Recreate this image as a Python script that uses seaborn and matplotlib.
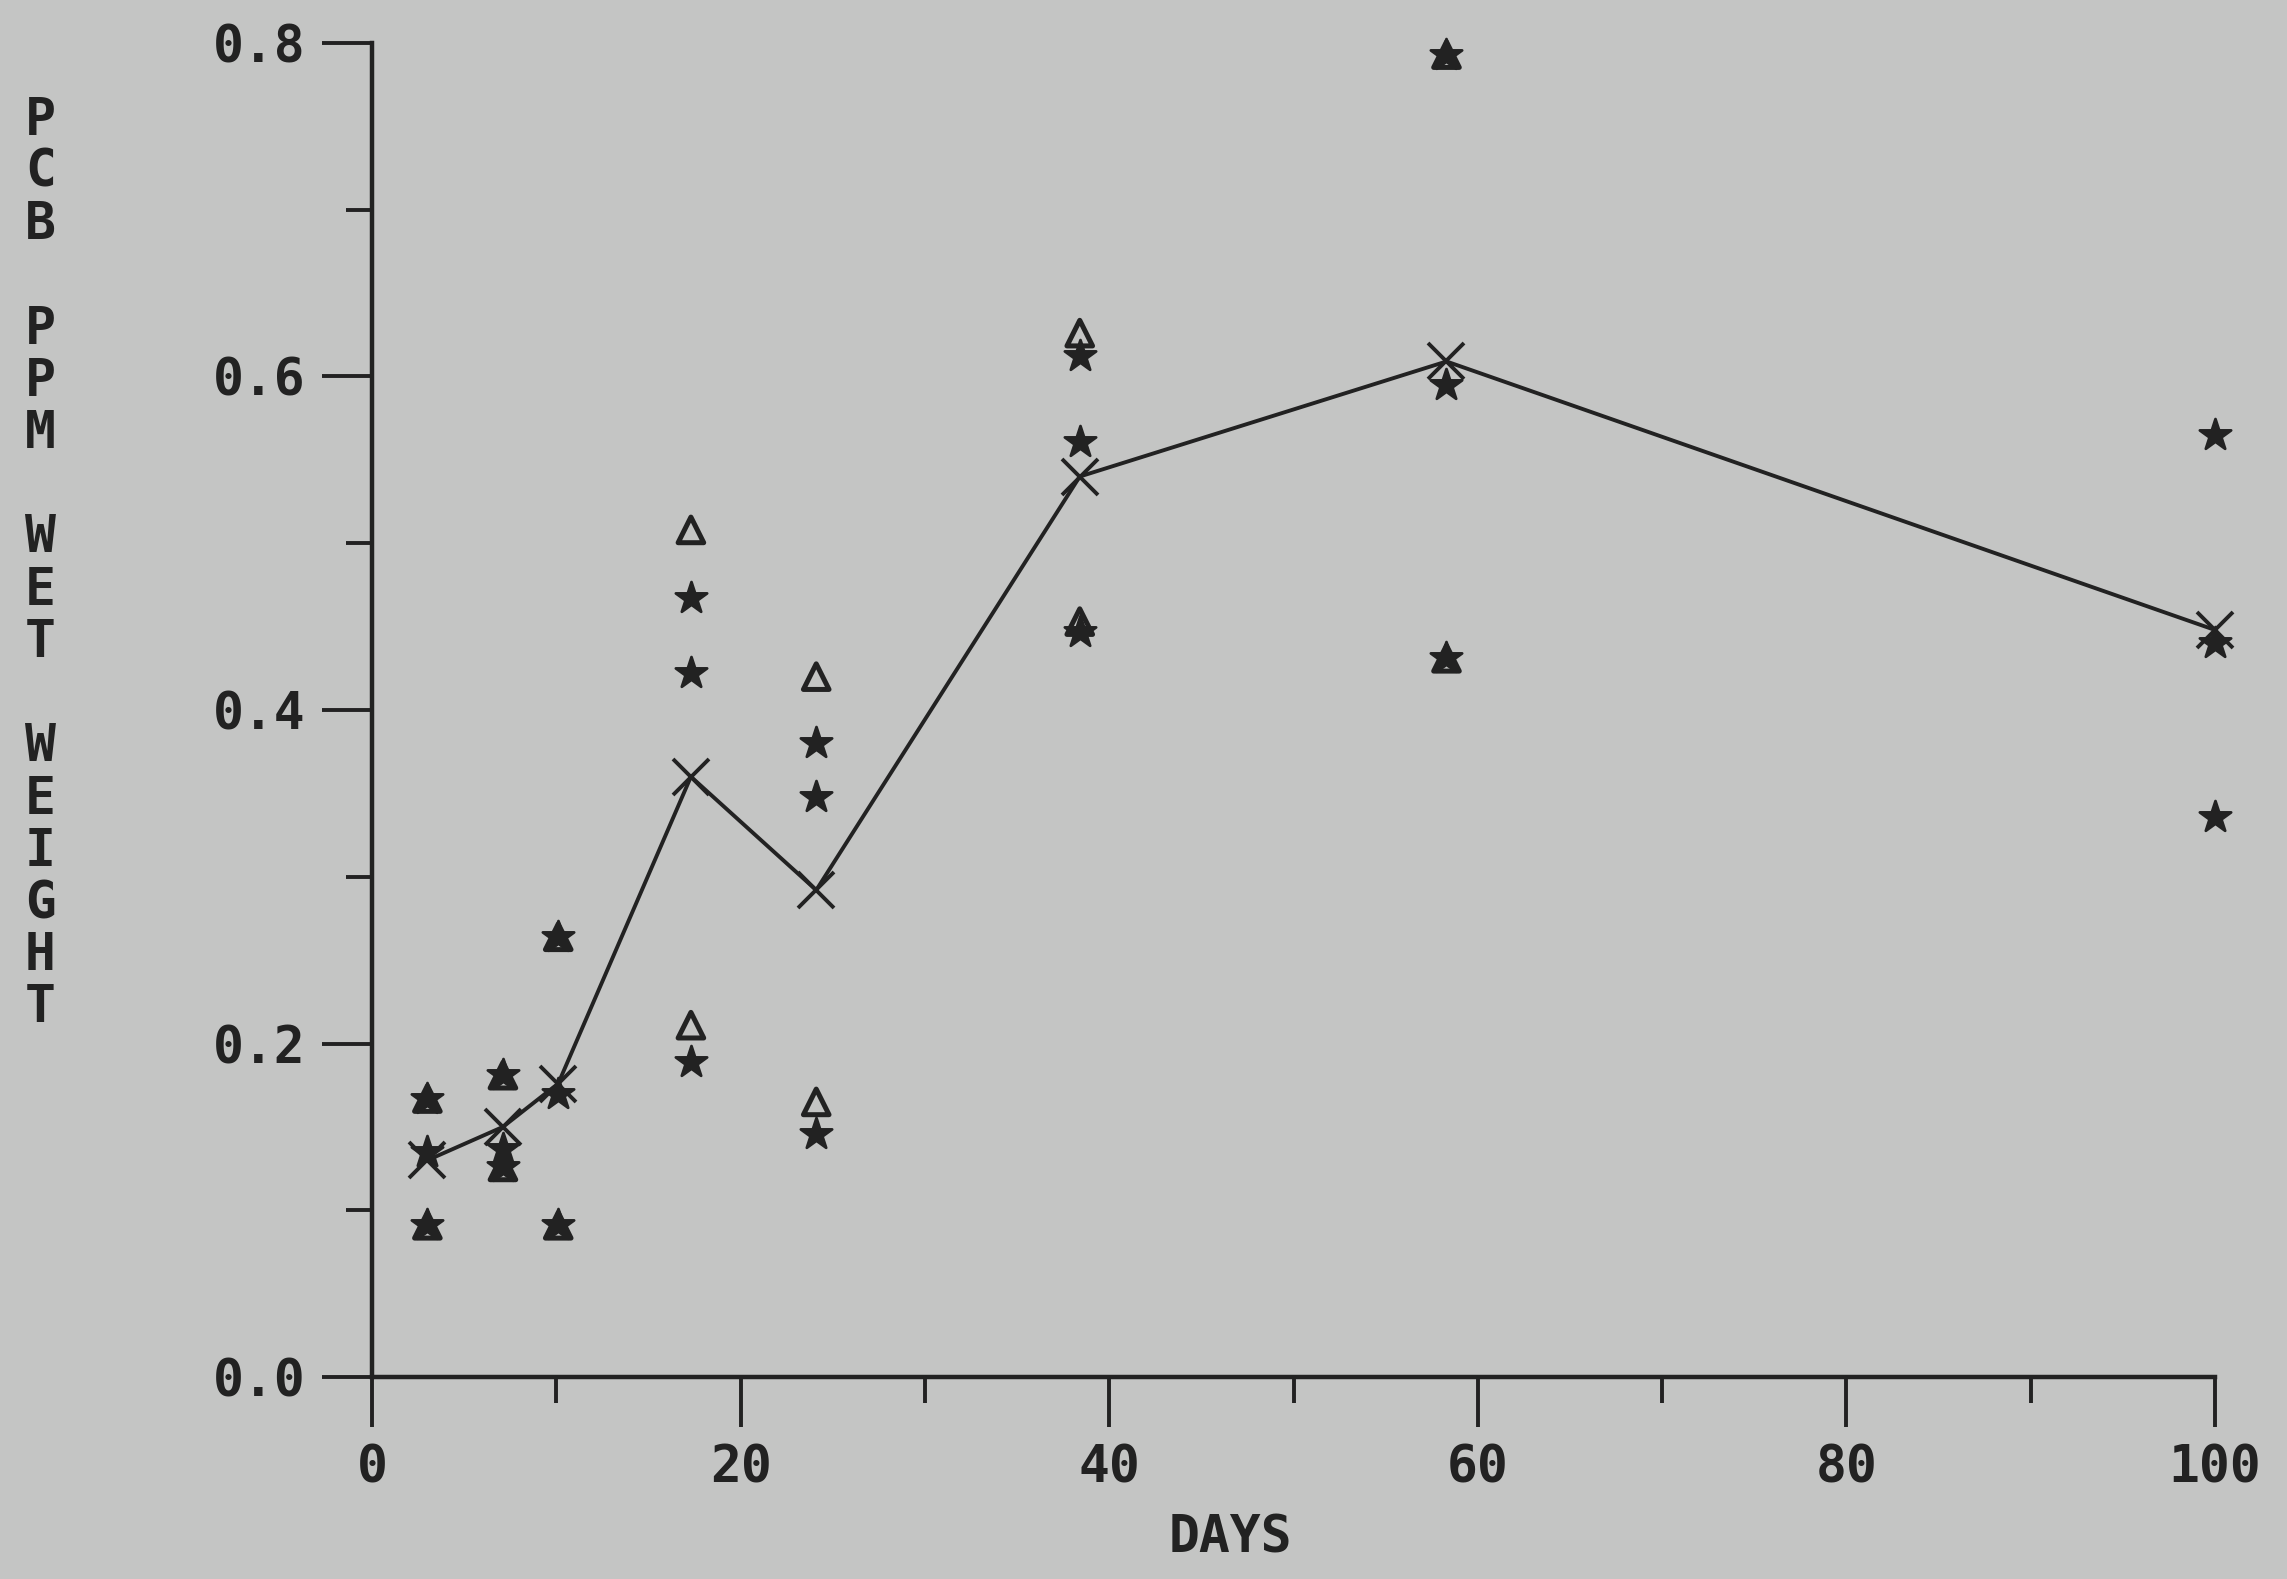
import matplotlib
matplotlib.use("Agg")
import matplotlib.pyplot as plt
import seaborn as sns
from matplotlib.ticker import MultipleLocator, FormatStrFormatter

# sampling days and the mean PCB level on each day
mean_days = [3, 7.1, 10.1, 17.3, 24.1, 38.4, 58.3, 100]
mean_ppm = [0.130, 0.150, 0.176, 0.360, 0.292, 0.540, 0.609, 0.448]

# individual samples plotted with stars
star_days = [3, 3, 3, 7.1, 7.1, 7.1, 10.1, 10.1, 10.1, 17.3, 17.3, 17.3,
             24.1, 24.1, 24.1, 38.4, 38.4, 38.4, 58.3, 58.3, 58.3, 100, 100, 100]
star_ppm = [0.167, 0.135, 0.091, 0.181, 0.137, 0.126, 0.264, 0.170, 0.091,
            0.467, 0.422, 0.189, 0.380, 0.348, 0.146, 0.612, 0.561, 0.447,
            0.793, 0.595, 0.431, 0.565, 0.440, 0.336]

# individual samples plotted with open triangles
tri_days = [3, 3, 7.1, 7.1, 10.1, 10.1, 17.3, 17.3, 24.1, 24.1, 38.4, 38.4, 58.3, 58.3]
tri_ppm = [0.167, 0.091, 0.181, 0.126, 0.264, 0.091, 0.508, 0.211,
           0.420, 0.165, 0.626, 0.453, 0.793, 0.431]

y_label = "PCB PPM WET WEIGHT"

sns.set_style("ticks")
plt.rcParams["font.family"] = ["DejaVu Sans Mono"]
plt.rcParams["font.weight"] = "bold"

bg = "#c4c5c4"
ink = "#222222"

fig = plt.figure(figsize=(22.87, 15.79), dpi=100, facecolor=bg)
ax = fig.add_axes([0.1627, 0.1279, 0.8058, 0.8449], facecolor=bg)

sns.lineplot(x=mean_days, y=mean_ppm, ax=ax, color=ink, linewidth=2.8,
             marker="x", markersize=26, markeredgewidth=2.8, markeredgecolor=ink,
             clip_on=False)
sns.scatterplot(x=star_days, y=star_ppm, ax=ax, marker="*", s=560,
                color=ink, edgecolor=ink, linewidth=2, zorder=3, clip_on=False)
sns.scatterplot(x=tri_days, y=tri_ppm, ax=ax, marker="^", s=340,
                facecolor="none", edgecolor=ink, linewidth=3.6, zorder=3,
                clip_on=False)

ax.set_xlim(0, 100)
ax.set_ylim(0, 0.8)
ax.xaxis.set_major_locator(MultipleLocator(20))
ax.xaxis.set_minor_locator(MultipleLocator(10))
ax.yaxis.set_major_locator(MultipleLocator(0.2))
ax.yaxis.set_minor_locator(MultipleLocator(0.1))
ax.yaxis.set_major_formatter(FormatStrFormatter("%.1f"))

sns.despine(ax=ax)
for side in ["left", "bottom"]:
    ax.spines[side].set_linewidth(3.2)
    ax.spines[side].set_color(ink)

ax.tick_params(which="major", direction="out", length=36, width=2.8,
               color=ink, labelsize=37, labelcolor=ink, pad=12)
ax.tick_params(which="minor", direction="out", length=19, width=2.8, color=ink)

ax.set_xlabel("DAYS", fontsize=37, fontweight="bold", color=ink, va="center")
ax.xaxis.set_label_coords(0.466, -0.121)
ax.set_ylabel("\n".join(y_label), rotation=0, fontsize=37, fontweight="bold",
              color=ink, ha="center", va="center", linespacing=1.057)
ax.yaxis.set_label_coords(-0.180, 0.609)

fig.savefig("out.png", dpi=100, facecolor=bg)
